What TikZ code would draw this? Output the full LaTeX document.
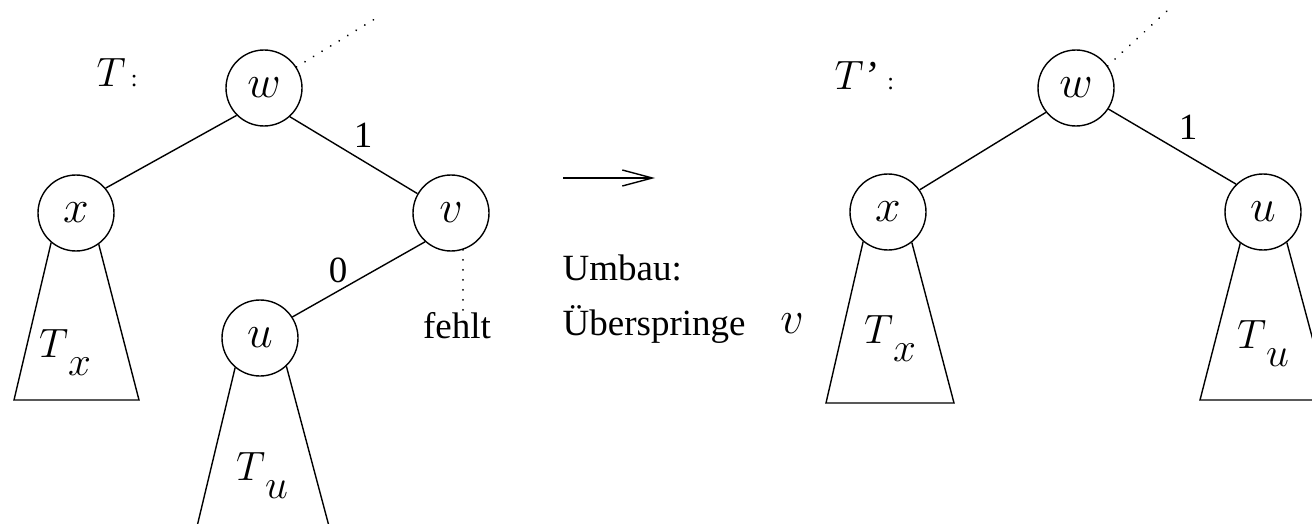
\RequirePackage{fix-cm}
\documentclass[tikz,border=0pt]{standalone}
\usepackage{fontspec}
\setmainfont{Liberation Serif}
\usetikzlibrary{arrows.meta}
\begin{document}
\begin{tikzpicture}[x=0.5pt,y=-0.5pt,
  line width=0.7pt,
  vert/.style={draw, circle, minimum size=38pt, inner sep=0pt, font=\fontsize{23}{23}\selectfont},
  txt/.style={anchor=base, inner sep=0pt, font=\fontsize{18.5}{22}\selectfont},
  mth/.style={anchor=base, inner sep=0pt, font=\fontsize{20.5}{20.5}\selectfont},
  dots/.style={line width=1pt, dash pattern=on 0.01pt off 5pt, line cap=round}]
\useasboundingbox (0,0) rectangle (1312,524);
\clip (0,0) rectangle (1312,524);

% ---------- left tree T ----------
\node[vert] (w) at (264,88) {$w$};
\node[vert] (x) at (76,213) {$x$};
\node[vert] (v) at (451,213) {$v$};
\node[vert] (u) at (260,338) {$u$};

\node[mth, anchor=base west] (tl) at (96,87) {$T$\hspace{2.5pt}{\fontsize{12}{12}\selectfont :}};

\draw (w.225) -- (x.40);
\draw (w.312) -- (v.150);
\node[txt] (l1) at (363,148) {1};
\draw (v.228) -- (u.33);
\node[txt] (l0) at (338,282) {0};

\coordinate (wtop) at (378,17);
\draw[dots] (w.33) -- (wtop);
\coordinate (vbot) at (463,310);
\draw[dots] (v.288) -- (vbot);
\node[txt] (fehlt) at (457,338) {fehlt};

\coordinate (txl) at (14,400);
\coordinate (txr) at (139,400);
\draw (x.230) -- (txl) -- (txr) -- (x.306);
\node[mth] (Tx) at (65,357) {$T$\raisebox{-9pt}{$x$}};

\coordinate (tul) at (189,560);
\coordinate (tur) at (338,560);
\draw (u.230) -- (tul) -- (tur) -- (u.313);
\node[mth] (Tu) at (262,480) {$T$\raisebox{-9pt}{$u$}};

% ---------- middle ----------
\coordinate (as) at (563,178);
\coordinate (ae) at (655,178);
\draw[-{Straight Barb[length=15pt,width=8pt]}] (as) -- (ae);
\node[txt, anchor=base west] (umbau) at (562,280) {Umbau:};
\node[txt, anchor=base west] (ueber) at (562,335) {Überspringe};
\node[txt, font=\fontsize{23}{23}\selectfont] (vv) at (792,333) {$v$};

% ---------- right tree T' ----------
\node[vert] (w2) at (1076,88) {$w$};
\node[vert] (x2) at (888,212) {$x$};
\node[vert] (u2) at (1263,212) {$u$};

\node[mth, anchor=base west] (tl2) at (834,90) {$T$\textit{’}\hspace{5pt}{\fontsize{12}{12}\selectfont :}};

\draw (w2.219) -- (x2.35);
\draw (w2.327) -- (u2.134);
\node[txt] (l1b) at (1188,140) {1};
\coordinate (w2top) at (1168,10);
\draw[dots] (w2.35) -- (w2top);

\coordinate (tx2l) at (826,403);
\coordinate (tx2r) at (954,403);
\draw (x2.230) -- (tx2l) -- (tx2r) -- (x2.308);
\node[mth] (Tx2) at (890,343) {$T$\raisebox{-9pt}{$x$}};

\coordinate (tu2l) at (1200,400);
\coordinate (tu2r) at (1329,400);
\draw (u2.234) -- (tu2l) -- (tu2r) -- (u2.308);
\node[mth] (Tu2) at (1263,348) {$T$\raisebox{-9pt}{$u$}};
\end{tikzpicture}
\end{document}
